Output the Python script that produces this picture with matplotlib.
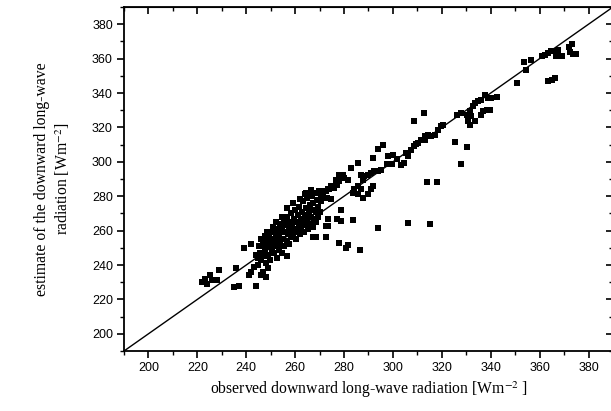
import numpy as np
import matplotlib
matplotlib.use("Agg")
from matplotlib import pyplot as plt
from matplotlib.ticker import MultipleLocator

# observed (x) vs estimated (y) downward long-wave radiation
# lower-left sparse points
obs_low = [222, 223, 224, 225, 226, 228, 229, 235, 236, 237, 239, 241, 242, 243, 244, 242, 244, 245, 246, 247, 248, 249, 245]
est_low = [230, 232, 229, 234, 231, 231, 237, 227, 238, 228, 250, 234, 236, 239, 228, 252, 246, 240, 234, 236, 233, 238, 244]

# dense cluster 245-271
obs_core = [245.3, 245.8, 246.2, 246.0, 246.9, 247.2, 247.5, 247.8, 248.1, 248.4, 248.6, 249.0, 249.3, 249.5, 249.9,
            250.2, 250.4, 250.7, 250.9, 251.3, 251.6, 251.8, 252.1, 252.4, 252.6, 252.9, 253.2, 253.5, 253.7, 254.0,
            254.3, 254.6, 254.8, 255.1, 255.4, 255.6, 255.9, 256.2, 256.5, 256.7, 257.0, 257.3, 257.6, 257.8, 258.1,
            258.4, 258.7, 258.9, 259.2, 259.5, 259.8, 260.0, 260.3, 260.6, 260.9, 261.1, 261.4, 261.7, 262.0, 262.2,
            262.5, 262.8, 263.1, 263.3, 263.6, 263.9, 264.2, 264.5, 264.7, 265.0, 265.3, 265.6, 265.9, 266.1, 266.4,
            266.7, 267.0, 267.3, 267.5, 267.8, 268.1, 268.4, 268.7, 269.0, 269.2, 269.5, 269.8, 270.1, 270.4, 270.7]
est_core = [251, 247, 255, 243, 252, 245, 257, 249, 241, 254, 259, 246, 251, 256, 243,
            253, 249, 259, 262, 247, 255, 251, 258, 244, 253, 261, 249, 256, 264, 252,
            259, 247, 262, 255, 266, 251, 259, 263, 254, 268, 258, 261, 252, 265, 256,
            270, 260, 263, 257, 267, 272, 261, 255, 265, 259, 269, 263, 274, 258, 267,
            261, 271, 265, 277, 259, 269, 263, 273, 266, 279, 261, 270, 275, 264, 268,
            280, 272, 262, 276, 267, 282, 271, 265, 278, 274, 268, 283, 271, 277, 280]

obs_hi = [256.5, 259.0, 262.0, 264.0, 266.5, 277.3, 254.5, 252.0]
est_hi = [273, 276, 278.5, 281.5, 283.5, 288, 268, 265]

# points well below the 1:1 line
obs_out = [256.8, 267.1, 268.4, 272.5, 273.5, 273.5, 277.3, 277.8, 281.0, 281.8, 286.6, 278.7, 283.8, 278.7,
           272.5, 273.2, 293.8, 306.1, 315.0, 314.0, 318.0, 328.0, 325.2, 330.3]
est_out = [245.3, 256.5, 256.0, 256.0, 266.5, 262.5, 267.0, 253.0, 250.1, 251.6, 248.7, 271.7, 266.0, 265.5,
           262.7, 262.7, 261.3, 264.2, 263.6, 288.1, 288.1, 298.8, 311.7, 308.6]

# band 270-300
obs_mid = [271.2, 272.6, 273.9, 273.2, 274.6, 276.0, 277.3, 278.0, 279.4, 280.1, 281.5, 282.8, 285.6, 286.9,
           287.6, 288.3, 289.7, 291.0, 292.4, 293.8, 295.1, 291.7, 293.8, 295.8, 297.9, 299.9, 285.6, 286.9,
           285.6, 287.6, 289.7, 291.0, 291.7, 284.2, 283.5, 278.1, 276.7, 274.6, 264.4, 269.2, 271.2, 273.3]
est_mid = [281.0, 283.0, 283.9, 279.1, 278.1, 284.9, 286.8, 288.8, 292.6, 290.7, 289.7, 296.5, 299.4, 292.6,
           289.7, 291.7, 292.6, 293.6, 294.6, 294.6, 295.5, 302.3, 307.5, 310.0, 303.3, 304.2, 285.9, 283.9,
           281.0, 279.1, 281.0, 283.9, 285.9, 283.9, 282.0, 292.6, 289.7, 285.8, 282.0, 282.0, 283.0, 283.9]

# band 297-315
obs_up = [303.4, 304.7, 306.1, 307.5, 308.8, 310.2, 311.6, 313.0, 314.3, 308.8, 312.9, 297.5, 299.5, 301.5, 305.5, 309.5]
est_up = [298.4, 299.4, 303.3, 307.1, 309.0, 311.0, 312.9, 314.8, 315.8, 323.5, 328.4, 298.5, 299.0, 301.5, 305.0, 310.5]

# band 313-350
obs_z = [313.0, 314.3, 315.7, 317.1, 318.4, 319.8, 320.5, 326.0, 328.0, 330.1, 331.5, 332.1, 330.8, 331.5,
         333.5, 332.8, 333.5, 334.9, 336.2, 337.6, 339.0, 340.3, 342.4, 336.9, 338.3, 339.7, 336.2, 350.6]
est_z = [312.9, 315.8, 314.9, 315.8, 318.7, 320.7, 321.6, 327.4, 328.4, 327.4, 329.4, 326.5, 323.6, 321.6,
         323.6, 332.3, 334.2, 335.2, 336.1, 339.0, 337.1, 337.1, 337.7, 329.4, 330.3, 330.3, 327.4, 345.8]

# top-right
obs_top = [353.6, 356.3, 354.3, 360.8, 362.2, 363.6, 364.7, 365.6, 366.6, 367.7, 369.3, 371.8, 373.2, 372.5,
           373.8, 374.8, 363.6, 364.9, 366.3]
est_top = [358.0, 359.3, 353.5, 361.3, 362.2, 363.2, 364.7, 364.2, 361.6, 365.1, 361.8, 367.0, 368.4, 363.6,
           362.8, 362.8, 346.8, 347.7, 348.7]

obs = obs_low + obs_core + obs_hi + obs_out + obs_mid + obs_up + obs_z + obs_top
est = est_low + est_core + est_hi + est_out + est_mid + est_up + est_z + est_top

lim = [190, 390]

plt.rcParams['mathtext.fontset'] = 'stix'

fig = plt.figure(figsize=(6.11, 4.11), dpi=100)
ax = fig.add_axes([124 / 611, 1 - 351 / 411, 489 / 611, 344 / 411])

ax.plot(lim, lim, color='black', lw=1.0)
ax.plot(obs, est, 's', color='black', ms=3.8, mew=0)

ax.set_xlim(lim)
ax.set_ylim(lim)
for a in (ax.xaxis, ax.yaxis):
    a.set_major_locator(MultipleLocator(20))
    a.set_minor_locator(MultipleLocator(10))
ax.tick_params(which='major', direction='out', length=5, width=1.2, labelsize=9, pad=3)
ax.tick_params(which='minor', direction='out', length=3, width=1.0)
for lab in ax.get_xticklabels() + ax.get_yticklabels():
    lab.set_family('Liberation Sans')
for s in ax.spines.values():
    s.set_linewidth(1.3)

# top / right ticks point inward, no labels
top = ax.secondary_xaxis('top')
top.xaxis.set_major_locator(MultipleLocator(20))
top.xaxis.set_minor_locator(MultipleLocator(10))
top.tick_params(which='major', direction='in', length=5, width=1.2, labeltop=False)
top.tick_params(which='minor', direction='in', length=3, width=1.0)
right = ax.secondary_yaxis('right')
right.yaxis.set_major_locator(MultipleLocator(20))
right.yaxis.set_minor_locator(MultipleLocator(10))
right.tick_params(which='major', direction='in', length=5, width=1.2, labelright=False)
right.tick_params(which='minor', direction='in', length=3, width=1.0)

ax.set_xlabel('observed downward long-wave radiation [Wm$^{-2}$ ]', family='Liberation Serif', fontsize=11.3, labelpad=4)
ax.set_ylabel('estimate of the downward long-wave\nradiation [Wm$^{-2}$]', family='Liberation Serif', fontsize=11.3,
              labelpad=14, multialignment='center', linespacing=1.25)

fig.savefig('out.png', dpi=100)
